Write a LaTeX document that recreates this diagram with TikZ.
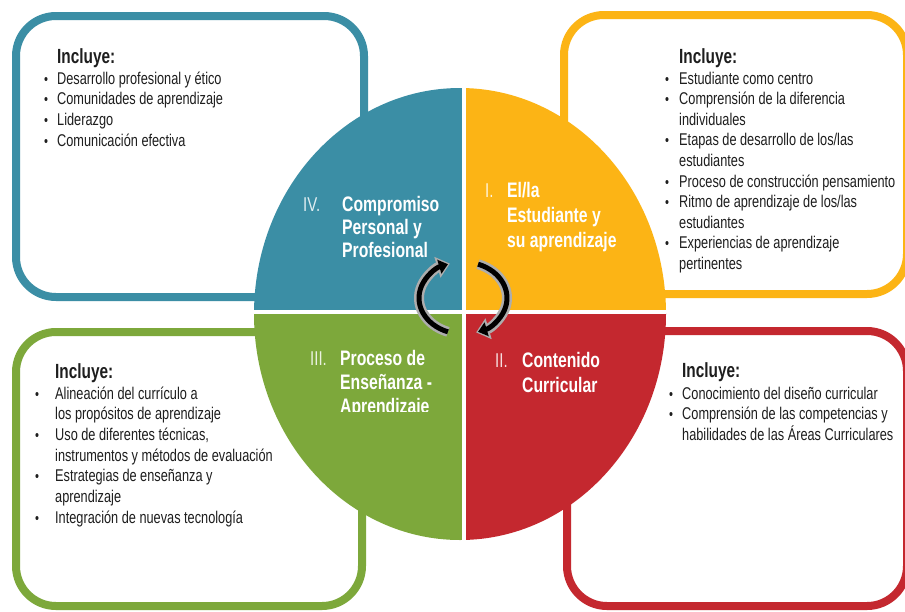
\documentclass[tikz,border=0pt]{standalone}
\usepackage{fontspec}
\setmainfont[FakeStretch=0.75]{Liberation Sans}
\usetikzlibrary{arrows.meta}
\definecolor{cteal}{HTML}{3B8EA5}
\definecolor{cyellow}{HTML}{FCB415}
\definecolor{cgreen}{HTML}{7DA83B}
\definecolor{cred}{HTML}{C4282F}
\definecolor{ctext}{HTML}{1E1E1E}
\definecolor{cgray}{HTML}{ADADAD}
\begin{document}
\begin{tikzpicture}[x=1pt,y=-1pt,
  frame/.style={line width=8pt,rounded corners=40pt,fill=white},
  head/.style={anchor=base west,inner sep=0pt,text=ctext,font=\bfseries\fontsize{20.5}{24}\selectfont},
  item/.style={anchor=base west,inner sep=0pt,text=ctext,font=\fontsize{17}{20}\selectfont},
  dot/.style={anchor=base west,inner sep=0pt,text=ctext,font=\fontsize{15}{20}\selectfont},
  qt/.style={anchor=base west,inner sep=0pt,text=white,font=\bfseries\fontsize{21}{24}\selectfont},
  num/.style={anchor=base west,inner sep=0pt,text=white,text opacity=.85,font=\fontsize{20}{24}\selectfont},
  arrout/.style={line width=10pt,draw=cgray,-{Triangle[length=13pt,width=21pt]}},
  arrin/.style={line width=5pt,draw=black,-{Triangle[length=9pt,width=14pt]}}]
\useasboundingbox (0,0) rectangle (905,611);
\fill[white] (0,0) rectangle (905,611);

% the four rounded frames
\begin{scope}
  \clip (0,0) rectangle (905,611);
  \draw[frame,draw=cteal] (16,16) rectangle (364,297);
  \draw[frame,draw=cyellow] (564,15) rectangle (907,294);
  \draw[frame,draw=cgreen] (16,332) rectangle (362,606);
  \draw[frame,draw=cred] (567,331) rectangle (907,606);
\end{scope}

% the quartered disc
\begin{scope}
  \clip (460,314) ellipse [x radius=206, y radius=226];
  \fill[cteal] (240,80) rectangle (464,312);
  \fill[cyellow] (464,80) rectangle (680,312);
  \fill[cgreen] (240,312) rectangle (464,545);
  \fill[cred] (464,312) rectangle (680,545);
  \draw[white,line width=4pt] (464,80) -- (464,545) (240,312) -- (680,312);
\end{scope}

% cycle arrows in the middle
\coordinate (cyc) at (463,298);
\draw[arrout,shorten >=-2pt] ([shift={(110:44 and 36)}]cyc) arc[start angle=110,end angle=250,x radius=44,y radius=36];
\draw[arrin] ([shift={(110:44 and 36)}]cyc) arc[start angle=110,end angle=250,x radius=44,y radius=36];
\draw[arrout,shorten >=-2pt] ([shift={(-70:44 and 36)}]cyc) arc[start angle=-70,end angle=70,x radius=44,y radius=36];
\draw[arrin] ([shift={(-70:44 and 36)}]cyc) arc[start angle=-70,end angle=70,x radius=44,y radius=36];

% quadrant titles
\node[num] (n4) at (303,211) {IV.};
\node[qt] (q4a) at (342,211) {Compromiso};
\node[qt] (q4b) at (342,234) {Personal y};
\node[qt] (q4c) at (342,257) {Profesional};

\node[num] (n1) at (485,197) {I.};
\node[qt] (q1a) at (507,197) {El/la};
\node[qt] (q1b) at (507,222) {Estudiante y};
\node[qt] (q1c) at (507,247) {su aprendizaje};

\node[num] (n3) at (310,365) {III.};
\node[qt] (q3a) at (340,365) {Proceso de};
\node[qt] (q3b) at (340,389) {Enseñanza -};
\begin{scope}
  \clip (300,300) rectangle (460,411);
  \node[qt] (q3c) at (340,413) {Aprendizaje};
\end{scope}

\node[num] (n2) at (495,367) {II.};
\node[qt] (q2a) at (522,367) {Contenido};
\node[qt] (q2b) at (522,392) {Curricular};

% top-left list
\node[head] (tlh) at (57,63) {Incluye:};
\foreach \txt [count=\k] in {{Desarrollo profesional y ético},{Comunidades de aprendizaje},{Liderazgo},{Comunicación efectiva}}{
  \node[dot] (tlb\k) at (44,{84+20.7*(\k-1)}) {•};
  \node[item] (tl\k) at (57,{84+20.7*(\k-1)}) {\txt};
}

% top-right list
\node[head] (trh) at (679,63) {Incluye:};
\node[dot] (trb1) at (665,84) {•};
\node[item] (tr1) at (679,84) {Estudiante como centro};
\node[dot] (trb2) at (665,104.6) {•};
\node[item] (tr2) at (679,104.6) {Comprensión de la diferencia};
\node[item] (tr3) at (679,125.2) {individuales};
\node[dot] (trb4) at (665,145.8) {•};
\node[item] (tr4) at (679,145.8) {Etapas de desarrollo de los/las};
\node[item] (tr5) at (679,166.4) {estudiantes};
\node[dot] (trb6) at (665,187) {•};
\node[item] (tr6) at (679,187) {Proceso de construcción pensamiento};
\node[dot] (trb7) at (665,207.6) {•};
\node[item] (tr7) at (679,207.6) {Ritmo de aprendizaje de los/las};
\node[item] (tr8) at (679,228.2) {estudiantes};
\node[dot] (trb9) at (665,248.8) {•};
\node[item] (tr9) at (679,248.8) {Experiencias de aprendizaje};
\node[item] (tr10) at (679,269.4) {pertinentes};

% bottom-left list
\node[head] (blh) at (55,378) {Incluye:};
\node[dot] (blb1) at (35,399) {•};
\node[item] (bl1) at (55,399) {Alineación del currículo a};
\node[item] (bl2) at (55,419.7) {los propósitos de aprendizaje};
\node[dot] (blb3) at (35,440.4) {•};
\node[item] (bl3) at (55,440.4) {Uso de diferentes técnicas,};
\node[item] (bl4) at (55,461) {instrumentos y métodos de evaluación};
\node[dot] (blb5) at (35,481.7) {•};
\node[item] (bl5) at (55,481.7) {Estrategias de enseñanza y};
\node[item] (bl6) at (55,502.4) {aprendizaje};
\node[dot] (blb7) at (35,523) {•};
\node[item] (bl7) at (55,523) {Integración de nuevas tecnología};

% bottom-right list
\node[head] (brh) at (682,377) {Incluye:};
\node[dot] (brb1) at (669,399) {•};
\node[item] (br1) at (682,399) {Conocimiento del diseño curricular};
\node[dot] (brb2) at (669,419.6) {•};
\node[item] (br2) at (682,419.6) {Comprensión de las competencias y};
\node[item] (br3) at (682,440.2) {habilidades de las Áreas Curriculares};
\end{tikzpicture}
\end{document}
